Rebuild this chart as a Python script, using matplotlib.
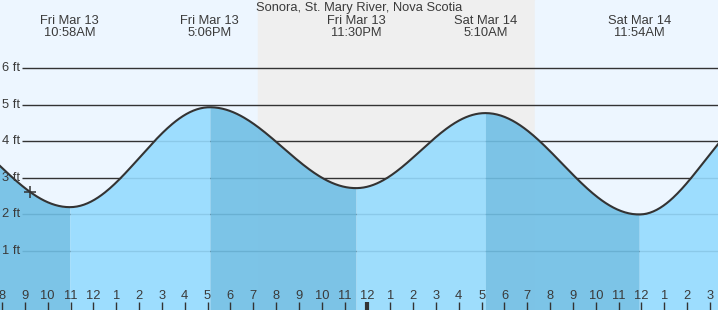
import matplotlib
matplotlib.use('Agg')
import matplotlib.pyplot as plt
import matplotlib.transforms as mtransforms
import numpy as np

plt.rcParams['font.family'] = ['Liberation Sans', 'DejaVu Sans']

# tide extremes, hours since Fri Mar 13 00:00 (first and last are off-chart estimates)
tide_hours = [4.6, 10.967, 17.1, 23.5, 29.167, 35.9, 41.6]
tide_feet = [4.6, 2.2, 4.93, 2.72, 4.77, 2.0, 4.9]
tide_labels = ['Fri Mar 13\n10:58AM', 'Fri Mar 13\n5:06PM', 'Fri Mar 13\n11:30PM',
               'Sat Mar 14\n5:10AM', 'Sat Mar 14\n11:54AM']

sunset = 19.21
sunrise = 31.34
now_hour = 9.23

tick_hours = list(range(8, 40))
tick_labels = [str((h - 1) % 12 + 1) for h in tick_hours]
ft_levels = [1, 2, 3, 4, 5, 6]

title = 'Sonora, St. Mary River, Nova Scotia'

x0, x1 = 7.91, 39.35
y0, y1 = -0.61, 7.86
txt_col = '#3a3a3a'
fs = 9.3

fig = plt.figure(figsize=(7.18, 3.10), dpi=100)
ax = fig.add_axes([0, 0, 1, 1])
ax.set_xlim(x0, x1)
ax.set_ylim(y0, y1)
ax.axis('off')

# day / night background
ax.axvspan(x0, sunset, color='#edf6ff', zorder=0)
ax.axvspan(sunset, sunrise, color='#efefef', zorder=0)
ax.axvspan(sunrise, x1, color='#edf6ff', zorder=0)

# grid lines
for lv in ft_levels:
    ax.hlines(lv, 8.876, x1, color='#333333', lw=1, zorder=1)
    ax.text(8.8, lv, f'{lv} ft', ha='right', va='center', fontsize=fs, color=txt_col, zorder=5)

# tide curve, cosine between successive extremes
xs_all, ys_all = [], []
for i in range(len(tide_hours) - 1):
    ta, tb = tide_hours[i], tide_hours[i + 1]
    ha, hb = tide_feet[i], tide_feet[i + 1]
    t = np.linspace(ta, tb, 120)
    f = (t - ta) / (tb - ta)
    h = hb + (ha - hb) * (1 + np.cos(np.pi * f)) / 2
    rising = hb > ha
    col = '#95dbfe' if rising else '#70bfe5'
    ax.fill_between(t, y0, h, color=col, alpha=0.9, lw=0, zorder=2)
    xs_all.append(t)
    ys_all.append(h)
xs_all = np.concatenate(xs_all)
ys_all = np.concatenate(ys_all)
ax.plot(xs_all, ys_all, color='#333333', lw=1.5, zorder=3)

# current time marker
now_ft = np.interp(now_hour, xs_all, ys_all)
ax.plot(now_hour, now_ft, marker='+', ms=8, mew=1.1, color='#333333', zorder=4)

# x ticks
for hr, lab in zip(tick_hours, tick_labels):
    lw = 3 if hr == 24 else 1
    ax.vlines(hr, y0, -0.40, color='#333333', lw=lw, zorder=4)
    ax.text(hr, -0.23, lab, ha='center', va='center', fontsize=fs, color=txt_col, zorder=5)

# header
trans = mtransforms.blended_transform_factory(ax.transData, ax.transAxes)
ax.text(0.5, 1 - 8 / 310, title, transform=ax.transAxes, ha='center', va='center',
        fontsize=fs, color=txt_col, zorder=6)
for hr, lab in zip(tide_hours[1:-1], tide_labels):
    ax.text(hr, 1 - 27.5 / 310, lab, transform=trans, ha='center', va='center',
            fontsize=fs, color=txt_col, linespacing=1.0, zorder=6)

fig.savefig('out.png', dpi=100)
